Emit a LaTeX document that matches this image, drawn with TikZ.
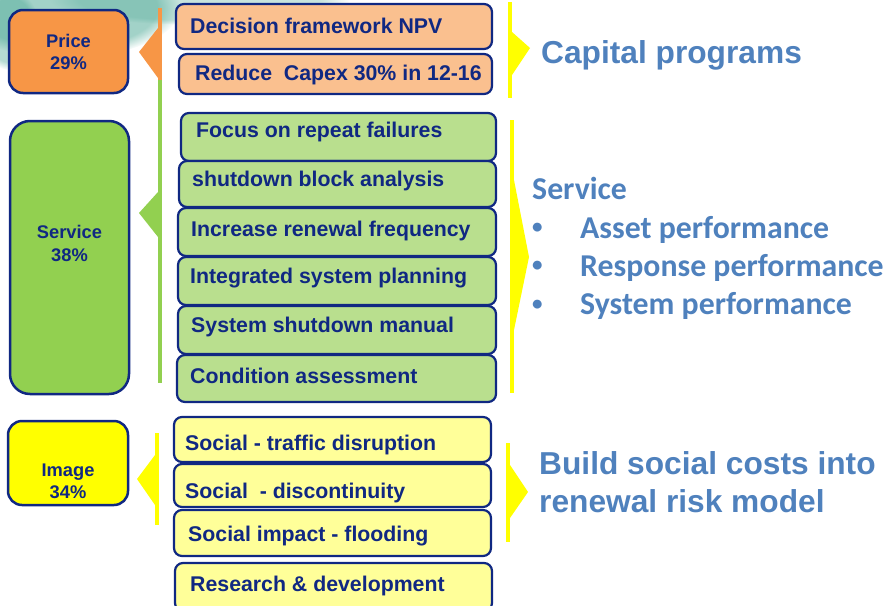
\documentclass[tikz,border=0pt]{standalone}
\usepackage{fontspec}
\setmainfont{Liberation Sans}
\newfontfamily\calib{Carlito}
\usetikzlibrary{fadings}
\definecolor{navy}{RGB}{16,40,130}
\definecolor{orgD}{HTML}{F79646}
\definecolor{orgL}{HTML}{FAC08F}
\definecolor{grnD}{HTML}{92D050}
\definecolor{grnL}{HTML}{B9DF8E}
\definecolor{yelD}{HTML}{FFFF00}
\definecolor{yelL}{HTML}{FFFF99}
\definecolor{rblue}{HTML}{4F81BD}
\definecolor{teal1}{RGB}{70,165,145}
\tikzset{
  bigbox/.style={draw=navy, line width=2.5pt, rounded corners=14pt, inner sep=0pt},
  smallbox/.style={draw=navy, line width=2.2pt, rounded corners=8pt, inner sep=0pt},
  btxt/.style={text=navy, font=\fontsize{21.3}{25}\selectfont\bfseries, inner sep=0pt, anchor=base west},
  ltxt/.style={text=navy, font=\fontsize{18.3}{22.3}\selectfont\bfseries, inner sep=0pt, align=center},
  rtxt/.style={text=rblue, font=\fontsize{31.7}{38}\selectfont\bfseries, inner sep=0pt, anchor=base west},
  stxt/.style={text=rblue, font=\calib\fontsize{31.8}{38}\selectfont\bfseries, inner sep=0pt, anchor=base west},
  bul/.style={text=rblue, font=\calib\fontsize{21}{25}\selectfont\bfseries, inner sep=0pt, anchor=base west},
}
\begin{document}
\begin{tikzpicture}[x=1pt,y=-1pt]
\useasboundingbox (0,0) rectangle (888,605);
% watercolor background
\fill[teal1, path fading=circle with fuzzy edge 20 percent, fill opacity=0.5] (65,8) ellipse (115 and 50);
\fill[teal1, path fading=circle with fuzzy edge 20 percent, fill opacity=0.3] (200,0) ellipse (150 and 25);
\fill[teal1, path fading=circle with fuzzy edge 20 percent, fill opacity=0.4] (10,30) ellipse (30 and 40);

% left category boxes
\node[bigbox, fill=orgD, minimum width=119pt, minimum height=83pt] (price) at (68.5,51.5) {};
\node[ltxt] (pricet) at (68.5,52) {Price\\29\%};
\node[bigbox, fill=grnD, rounded corners=20pt, minimum width=119pt, minimum height=273pt] (service) at (69.5,257.5) {};
\node[ltxt] (servicet) at (69.5,243.5) {Service\\38\%};
\node[bigbox, fill=yelD, minimum width=120pt, minimum height=84pt] (image) at (68,463) {};
\node[ltxt] (imaget) at (68,481.5) {Image\\34\%};

% left bars and arrow heads
\fill[orgD] (158,8) rectangle (162,80);
\fill[orgD] (158,28) -- (139,52) -- (158,78) -- cycle;
\fill[grnD] (158,80) rectangle (162,383);
\fill[grnD] (158,192) -- (139,213) -- (158,237) -- cycle;
\fill[yelD] (155,433) rectangle (159,525);
\fill[yelD] (155,455) -- (137,479) -- (155,505) -- cycle;

% orange boxes
\node[smallbox, fill=orgL, minimum width=316pt, minimum height=45pt] (o1) at (334,26.5) {};
\node[btxt] (o1t) at (190,33) {Decision framework NPV};
\node[smallbox, fill=orgL, minimum width=313pt, minimum height=40pt] (o2) at (335.5,74) {};
\node[btxt] (o2t) at (195,80) {Reduce~ Capex 30\% in 12-16};

% green boxes
\node[smallbox, fill=grnL, minimum width=315pt, minimum height=48pt] (g1) at (338.5,137) {};
\node[btxt] (g1t) at (196,137) {Focus on repeat failures};
\node[smallbox, fill=grnL, minimum width=317pt, minimum height=46pt] (g2) at (337.5,184) {};
\node[btxt] (g2t) at (192,186) {shutdown block analysis};
\node[smallbox, fill=grnL, minimum width=318pt, minimum height=48pt] (g3) at (337,232) {};
\node[btxt] (g3t) at (191,236) {Increase renewal frequency};
\node[smallbox, fill=grnL, minimum width=318pt, minimum height=48pt] (g4) at (337,281) {};
\node[btxt] (g4t) at (190,283) {Integrated system planning};
\node[smallbox, fill=grnL, minimum width=318pt, minimum height=48pt] (g5) at (337,330) {};
\node[btxt] (g5t) at (191,332) {System shutdown manual};
\node[smallbox, fill=grnL, minimum width=319pt, minimum height=47pt] (g6) at (336.5,378.5) {};
\node[btxt] (g6t) at (190,383) {Condition assessment};

% yellow boxes
\node[smallbox, fill=yelL, minimum width=317pt, minimum height=45pt] (y1) at (332.5,439.5) {};
\node[btxt] (y1t) at (185,450) {Social - traffic disruption};
\node[smallbox, fill=yelL, minimum width=317pt, minimum height=43pt] (y2) at (332.5,485.5) {};
\node[btxt] (y2t) at (185,498) {Social~ - discontinuity};
\node[smallbox, fill=yelL, minimum width=317pt, minimum height=46pt] (y3) at (332.5,533) {};
\node[btxt] (y3t) at (188,541) {Social impact - flooding};
\node[smallbox, fill=yelL, minimum width=317pt, minimum height=48pt] (y4) at (333.5,587) {};
\node[btxt] (y4t) at (190,591) {Research \& development};

% right bars with arrow heads
\fill[yelD] (508,2) rectangle (512,98);
\fill[yelD] (512,32) -- (530,48) -- (512,75) -- cycle;
\fill[yelD] (510,120) rectangle (514,393);
\fill[yelD] (514,180) -- (529,257) -- (514,330) -- cycle;
\fill[yelD] (506,443) rectangle (510,542);
\fill[yelD] (510,465) -- (528,492) -- (510,518) -- cycle;

% right texts
\node[rtxt] (capt) at (541,63) {Capital programs};
\node[stxt] (servt) at (532,199) {Service};
\node[bul] (b1) at (532,233) {•};
\node[stxt] (s1) at (580,238) {Asset performance};
\node[bul] (b2) at (532,271) {•};
\node[stxt] (s2) at (580,276) {Response performance};
\node[bul] (b3) at (532,310) {•};
\node[stxt] (s3) at (580,314) {System performance};
\node[rtxt] (build1) at (539,474) {Build social costs into};
\node[rtxt] (build2) at (539,512) {renewal risk model};
\end{tikzpicture}
\end{document}
